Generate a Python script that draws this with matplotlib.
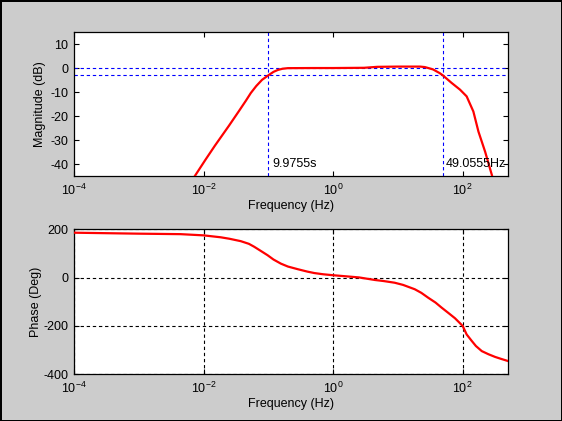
import numpy as np
import matplotlib
matplotlib.use("Agg")
import matplotlib.pyplot as plt

plt.rcParams["font.family"] = ["Liberation Sans", "DejaVu Sans"]
plt.rcParams["mathtext.fontset"] = "custom"
plt.rcParams["mathtext.rm"] = "Liberation Sans"
plt.rcParams["mathtext.it"] = "Liberation Sans"
plt.rcParams["axes.unicode_minus"] = False

# magnitude response (Hz, dB)
mag_freq = [0.006, 0.00733, 0.0107, 0.015, 0.0247, 0.035, 0.045, 0.0536,
            0.065, 0.08, 0.1028, 0.12, 0.14, 0.165, 0.2, 0.5, 1.0, 3.0,
            4.8, 10.0, 22.0, 26.0, 29.4, 35.0, 39.5, 44.0, 49.0555, 67.4,
            90.8, 115.0, 146.0, 175.0, 222.0, 282.0, 300.0]
mag_db = [-49.0, -45.0, -38.2, -32.3, -24.0, -18.0, -13.6, -10.4,
          -7.5, -4.9, -2.8, -1.6, -0.8, -0.3, -0.05, 0.0, 0.0, 0.1,
          0.5, 0.6, 0.6, 0.4, 0.0, -0.6, -1.4, -2.1, -3.0, -6.2,
          -9.0, -11.8, -18.1, -26.5, -34.9, -44.6, -47.5]

# phase response (Hz, deg)
ph_freq = [1e-4, 1e-3, 0.0044, 0.01, 0.0184, 0.025, 0.0375, 0.05, 0.0603,
           0.075, 0.097, 0.12, 0.156, 0.2, 0.284, 0.4, 0.513, 0.7, 1.0,
           1.67, 2.5, 4.37, 6.0, 8.9, 12.0, 18.2, 23.0, 29.3, 38.0, 47.2,
           60.0, 76.0, 88.0, 100.0, 115.0, 138.0, 160.0, 197.0, 250.0,
           316.0, 400.0, 500.0]
ph_deg = [186, 182, 180, 175, 167, 161, 151, 140, 128,
          112, 93, 75, 58, 46, 35, 25, 19, 14, 10,
          5, 1, -9.5, -14, -21, -30, -48, -63, -83, -103, -124,
          -146, -168, -185, -200, -235, -262, -283, -304, -317,
          -328, -337, -345]

# cut-off markers
f_low = 1 / 9.9755
f_high = 49.0555
low_label = "9.9755s"
high_label = "49.0555Hz"

x_ticks = [1e-4, 1e-2, 1e0, 1e2]
x_ticklabels = ["$10^{-4}$", "$10^{-2}$", "$10^{0}$", "$10^{2}$"]
mag_ticks = [-40, -30, -20, -10, 0, 10]
ph_ticks = [-400, -200, 0, 200]

BG = "#cccccc"
RED = "#ff0000"
BLUE = "#0000ff"
FS = 9
DASH = (0, (3, 2.5))

fig = plt.figure(figsize=(5.62, 4.21), dpi=100)
fig.patch.set_facecolor(BG)
fig.patch.set_edgecolor("black")
fig.patch.set_linewidth(2)

ax1 = fig.add_axes([0.1317, 0.5819, 0.7722, 0.3420])
ax2 = fig.add_axes([0.1317, 0.1109, 0.7722, 0.3444])

for ax in (ax1, ax2):
    ax.set_xscale("log")
    ax.set_xlim(1e-4, 500)
    ax.set_xticks(x_ticks)
    ax.set_xticklabels(x_ticklabels)
    ax.minorticks_off()
    ax.tick_params(direction="in", length=3.5, width=0.8, top=True, right=True,
                   labelsize=FS, pad=4)
    ax.tick_params(axis="x", pad=5)
    for s in ax.spines.values():
        s.set_linewidth(0.9)
    ax.set_xlabel("Frequency (Hz)", fontsize=FS, labelpad=1)

# Panel 1 - magnitude
ax1.plot(mag_freq, mag_db, color=RED, linewidth=1.6, zorder=3)
ax1.axhline(0, color=BLUE, linewidth=0.8, linestyle=DASH, zorder=2)
ax1.axhline(-3, color=BLUE, linewidth=0.8, linestyle=DASH, zorder=2)
ax1.axvline(f_low, color=BLUE, linewidth=0.8, linestyle=DASH, zorder=2)
ax1.axvline(f_high, color=BLUE, linewidth=0.8, linestyle=DASH, zorder=2)
ax1.annotate(low_label, xy=(f_low, -40), xytext=(3, 0), textcoords="offset points",
             fontsize=FS, va="center", ha="left")
ax1.annotate(high_label, xy=(f_high, -40), xytext=(2.5, 0), textcoords="offset points",
             fontsize=FS, va="center", ha="left")
ax1.set_ylim(-45, 15)
ax1.set_yticks(mag_ticks)
ax1.set_ylabel("Magnitude (dB)", fontsize=FS, labelpad=3)

# Panel 2 - phase
ax2.plot(ph_freq, ph_deg, color=RED, linewidth=1.6, zorder=3)
ax2.set_ylim(-400, 200)
ax2.set_yticks(ph_ticks)
ax2.grid(True, color="black", linewidth=0.8, linestyle=DASH)
ax2.set_ylabel("Phase (Deg)", fontsize=FS, labelpad=1)

fig.savefig("out.png", dpi=100, facecolor=BG, edgecolor="black")
